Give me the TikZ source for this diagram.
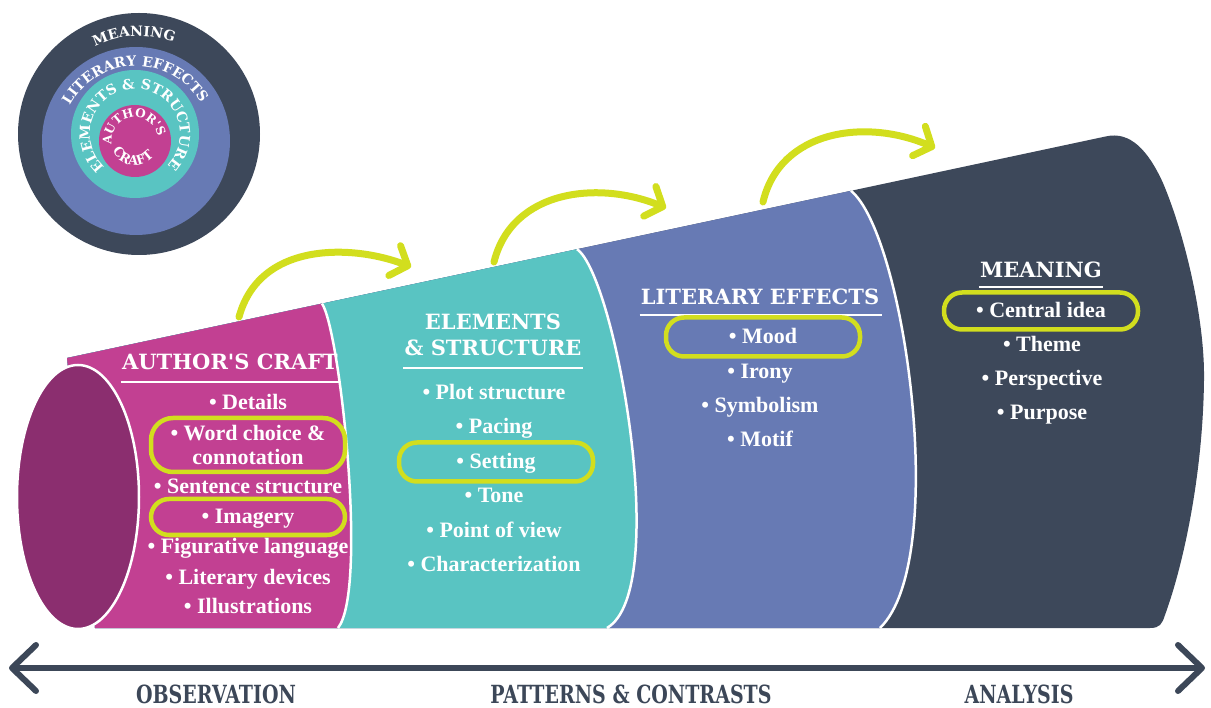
\documentclass[tikz,border=0pt]{standalone}
\usepackage{fontspec}
\usetikzlibrary{arrows.meta,decorations.text}

\newfontfamily\slabfont{DejaVu Serif}
\newfontfamily\listfont{Liberation Serif}
\newfontfamily\axlabfont{DejaVu Serif}[FakeStretch=0.76]
\newcommand\ringfont{\slabfont\bfseries\fontsize{14}{14}\selectfont}
\newcommand\coreringfont{\slabfont\bfseries\fontsize{12}{12}\selectfont}
\newcommand\coreringfontb{\slabfont\bfseries\fontsize{13}{13}\selectfont}

\definecolor{craft}{RGB}{194,64,146}
\definecolor{opening}{RGB}{139,46,111}
\definecolor{elements}{RGB}{89,196,194}
\definecolor{effects}{RGB}{103,122,180}
\definecolor{meaning}{RGB}{61,72,90}
\definecolor{marker}{RGB}{210,222,30}
\definecolor{axisink}{RGB}{60,71,88}

\tikzset{
  seam/.style={draw=white, line width=2.5pt},
  title/.style={font=\slabfont\bfseries\fontsize{21}{24}\selectfont, text=white, inner sep=0pt, anchor=base},
  uline/.style={draw=white, line width=1.6pt},
  item/.style={font=\listfont\bfseries\fontsize{22}{24}\selectfont, text=white, inner sep=0pt},
  itm/.style={item, text height=14pt, text depth=0pt},
  hl/.style={draw=marker, line width=4.5pt, rounded corners=18pt, minimum width=194pt},
  hop/.style={draw=marker, line width=7pt, line cap=round, -{Straight Barb[length=14pt,width=32pt,round]}},
  axis/.style={draw=axisink, line width=6pt,
    {Straight Barb[length=24pt,width=46pt,round]}-{Straight Barb[length=24pt,width=46pt,round]}},
  axlabel/.style={font=\axlabfont\bfseries\fontsize{25}{26}\selectfont, text=axisink, inner sep=0pt},
}

\begin{document}
\begin{tikzpicture}[x=1pt,y=1pt]
\useasboundingbox (0,0) rectangle (1211,-708);

% ---- the cone, drawn back to front ----
\fill[meaning] (67,-358) -- (1106,-136.4)
  .. controls (1130,-131) and (1148,-150) .. (1163,-183)
  .. controls (1185,-235) and (1205,-320) .. (1204,-380)
  .. controls (1203,-470) and (1185,-560) .. (1165,-615)
  .. controls (1162,-624) and (1160,-628) .. (1150,-628)
  -- (95,-628) -- cycle;
\fill[effects] (67,-358) -- (851,-190.8)
  .. controls (905,-235) and (950,-560) .. (880,-628) -- (95,-628) -- cycle;
\fill[elements] (67,-358) -- (577,-249.2)
  .. controls (615,-275) and (672,-590) .. (607,-628) -- (95,-628) -- cycle;
\fill[craft] (67,-358) -- (322,-303.6)
  .. controls (340,-330) and (368,-590) .. (338,-628) -- (95,-628) -- cycle;

% white seams between the sections
\draw[seam] (851,-190.8) .. controls (905,-235) and (950,-560) .. (880,-628);
\draw[seam] (577,-249.2) .. controls (615,-275) and (672,-590) .. (607,-628);
\draw[seam] (322,-303.6) .. controls (340,-330) and (368,-590) .. (338,-628);

% open end of the cone
\filldraw[fill=opening, draw=white, line width=2.5pt] (78,-497) ellipse[x radius=61, y radius=132];

% ---- nested circles ----
\coordinate (oc) at (139,-134);
\coordinate (bc) at (136,-141);
\coordinate (tc) at (135,-134);
\coordinate (pc) at (135,-141);
\fill[meaning] (oc) circle[radius=121];
\fill[effects] (bc) circle[radius=94];
\fill[elements] (tc) circle[radius=64];
\fill[craft] (pc) circle[radius=36];

\path[decorate, decoration={text along path, text color=white, text align=center,
  text={|\ringfont|MEANING}}]
  ([shift={(163:98)}]oc) arc[start angle=163, end angle=23, radius=98];
\path[decorate, decoration={text along path, text color=white, text align=center,
  text={|\ringfont|LITERARY EFFECTS}}]
  ([shift={(180:75)}]bc) arc[start angle=180, end angle=2, radius=75];
\path[decorate, decoration={text along path, text color=white, text align=center,
  text={|\ringfont|ELEMENTS {\&} STRUCTURE}}]
  ([shift={(250:45)}]tc) arc[start angle=250, end angle=-67, radius=45];
\path[decorate, decoration={text along path, text color=white, text align=center,
  text={|\coreringfont|AUTHOR'S}}]
  ([shift={(200:23.5)}]pc) arc[start angle=200, end angle=0, radius=23.5];
\path[decorate, decoration={text along path, text color=white, text align=center,
  text={|\coreringfontb|CRAFT}}]
  ([shift={(172:24)}]pc) arc[start angle=172, end angle=352, radius=24];

% ---- hops between the sections ----
\coordinate (h1s) at (239,-317);  \coordinate (h1e) at (411,-267);
\coordinate (h2s) at (494,-262);  \coordinate (h2e) at (666,-208);
\coordinate (h3s) at (763,-202);  \coordinate (h3e) at (935,-148);
\draw[hop] (h1s) .. controls (260,-240) and (355,-245) .. (h1e);
\draw[hop] (h2s) .. controls (512,-190) and (598,-180) .. (h2e);
\draw[hop] (h3s) .. controls (780,-130) and (866,-118) .. (h3e);

% ---- section titles ----
\node[title] (tA) at (230,-369.5) {AUTHOR'S CRAFT};
\draw[uline] ([shift={(-1,-12.5)}]tA.base west) -- ([shift={(1,-12.5)}]tA.base east);
\node[title] (tB1) at (493,-329.5) {ELEMENTS};
\node[title] (tB2) at (493,-355.5) {\& STRUCTURE};
\draw[uline] ([shift={(-1,-12.5)}]tB2.base west) -- ([shift={(1,-12.5)}]tB2.base east);
\node[title] (tC) at (760,-304.5) {LITERARY EFFECTS};
\draw[uline] ([shift={(-1,-10.5)}]tC.base west) -- ([shift={(3,-10.5)}]tC.base east);
\node[title] (tD) at (1041,-277.5) {MEANING};
\draw[uline] ([shift={(-1,-9.5)}]tD.base west) -- ([shift={(1,-9.5)}]tD.base east);

% ---- author's craft ----
\node[itm] (c1) at (248,-403) {• Details};
\node[item, hl, align=center, minimum height=54pt, rounded corners=22pt] (c2) at (248,-445) {• Word choice \&\\connotation};
\node[itm] (c3) at (248,-487) {• Sentence structure};
\node[itm, hl, minimum height=36pt] (c4) at (248,-517) {• Imagery};
\node[itm] (c5) at (248,-547) {• Figurative language};
\node[itm] (c6) at (248,-577) {• Literary devices};
\node[itm] (c7) at (248,-606) {• Illustrations};

% ---- elements & structure ----
\node[itm] (e1) at (494,-393) {• Plot structure};
\node[itm] (e2) at (494,-427) {• Pacing};
\node[itm, hl, minimum height=39pt] (e3) at (496,-462) {• Setting};
\node[itm] (e4) at (494,-496) {• Tone};
\node[itm] (e5) at (494,-530) {• Point of view};
\node[itm] (e6) at (494,-564) {• Characterization};

% ---- literary effects ----
\node[itm, hl, minimum height=39pt] (l1) at (763,-337) {• Mood};
\node[itm] (l2) at (760,-372) {• Irony};
\node[itm] (l3) at (760,-406) {• Symbolism};
\node[itm] (l4) at (760,-440) {• Motif};

% ---- meaning ----
\node[itm, hl, minimum height=37pt] (m1) at (1041,-311) {• Central idea};
\node[itm] (m2) at (1042,-345) {• Theme};
\node[itm] (m3) at (1042,-379) {• Perspective};
\node[itm] (m4) at (1042,-413) {• Purpose};

% ---- scale of reading ----
\coordinate (axL) at (9,-668);
\coordinate (axR) at (1205,-668);
\draw[axis] (axL) -- (axR);
\node[axlabel] (x1) at (216,-694) {OBSERVATION};
\node[axlabel] (x2) at (631,-694) {PATTERNS \& CONTRASTS};
\node[axlabel] (x3) at (1019,-694) {ANALYSIS};
\end{tikzpicture}
\end{document}
